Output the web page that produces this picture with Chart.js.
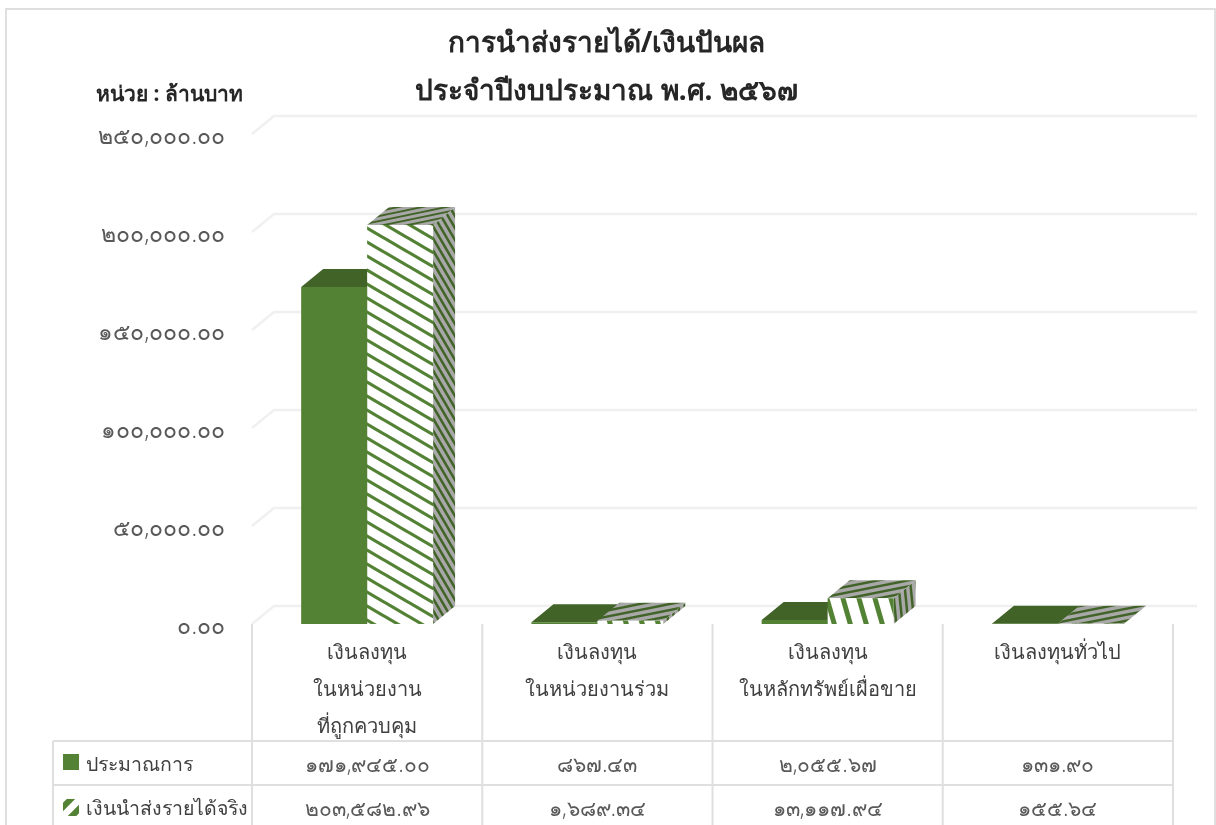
<!DOCTYPE html>
<html>
<head>
    <meta charset="utf-8">
    <title>การนำส่งรายได้</title>
    <script src="https://cdn.jsdelivr.net/npm/chart.js"></script>
    <style>
        html, body { margin: 0; background: #fff; overflow: hidden; }
    </style>
</head>
<body>
    <canvas id="revenueChart" width="1216" height="825"></canvas>

    <script>
    const categories = [
        ['เงินลงทุน', 'ในหน่วยงาน', 'ที่ถูกควบคุม'],
        ['เงินลงทุน', 'ในหน่วยงานร่วม'],
        ['เงินลงทุน', 'ในหลักทรัพย์เผื่อขาย'],
        ['เงินลงทุนทั่วไป']
    ];
    const seriesNames = ['ประมาณการ', 'เงินนำส่งรายได้จริง'];
    const plannedValues = [171945.00, 867.43, 2055.67, 131.90];
    const actualValues = [203582.96, 1689.34, 13117.94, 155.64];
    const titleLines = ['การนำส่งรายได้/เงินปันผล', 'ประจำปีงบประมาณ พ.ศ. ๒๕๖๗'];
    const unitLabel = 'หน่วย : ล้านบาท';

    const FONT = '"Noto Sans", sans-serif';
    const TEXT = '#404040';
    const DIGITS = '#595959';
    const GREEN = '#548235';
    const DARK_GREEN = '#426328';
    const GRID = '#f0f0f0';
    const TABLE_LINE = '#dfdfdf';
    const GRAY = '#a8a8a8';
    const DEPTH_X = 22;
    const DEPTH_Y = 18;

    const thaiDigits = '๐๑๒๓๔๕๖๗๘๙';
    function toThai(value) {
        const text = value.toLocaleString('en-US', { minimumFractionDigits: 2, maximumFractionDigits: 2 });
        return text.replace(/[0-9]/g, d => thaiDigits[d]);
    }

    // striped tile, stripe drops `period` px for every `run` px sideways (rising when up is set)
    function stripes(bg, fg, period, run, lineWidth, up) {
        const c = document.createElement('canvas');
        c.width = run;
        c.height = period;
        const g = c.getContext('2d');
        g.fillStyle = bg;
        g.fillRect(0, 0, run, period);
        if (up) {
            g.translate(0, period);
            g.scale(1, -1);
        }
        g.strokeStyle = fg;
        g.lineWidth = lineWidth;
        for (let k = -1; k <= 1; k++) {
            g.beginPath();
            g.moveTo(-run, k * period - period);
            g.lineTo(run * 2, k * period + period * 2);
            g.stroke();
        }
        return c;
    }

    const ctx = document.getElementById('revenueChart').getContext('2d');
    const frontTall = ctx.createPattern(stripes('#ffffff', GREEN, 14, 24, 3.2), 'repeat');
    const frontLow = ctx.createPattern(stripes('#ffffff', GREEN, 56, 16, 5), 'repeat');
    const sideTall = ctx.createPattern(stripes(GRAY, DARK_GREEN, 12, 7, 2.5), 'repeat');
    const sideLow = ctx.createPattern(stripes(GRAY, DARK_GREEN, 60, 6, 2.5), 'repeat');
    const topTall = ctx.createPattern(stripes(GRAY, DARK_GREEN, 5, 24, 1.8, true), 'repeat');
    const topLow = ctx.createPattern(stripes(GRAY, DARK_GREEN, 6, 30, 2.4, true), 'repeat');
    const sideFaces = [sideTall, sideLow, sideLow, sideLow];
    const topFaces = [topTall, topLow, topLow, topLow];

    const depthPlugin = {
        id: 'depth',
        beforeDatasetsDraw(chart) {
            const c = chart.ctx;
            const { left, right } = chart.chartArea;
            const yScale = chart.scales.y;
            c.save();

            // wall and floor grid
            c.strokeStyle = GRID;
            c.lineWidth = 2.5;
            yScale.ticks.forEach(t => {
                const y = yScale.getPixelForValue(t.value);
                c.beginPath();
                c.moveTo(left, y);
                c.lineTo(left + DEPTH_X, y - DEPTH_Y);
                c.lineTo(right + 24, y - DEPTH_Y);
                c.stroke();
            });

            // top and side faces of the bars
            chart.data.datasets.forEach((ds, i) => {
                chart.getDatasetMeta(i).data.forEach((bar, n) => {
                    const x0 = bar.x - bar.width / 2;
                    const x1 = bar.x + bar.width / 2;
                    c.fillStyle = i === 0 ? DARK_GREEN : sideFaces[n];
                    c.beginPath();
                    c.moveTo(x1, bar.y);
                    c.lineTo(x1 + DEPTH_X, bar.y - DEPTH_Y);
                    c.lineTo(x1 + DEPTH_X, bar.base - DEPTH_Y);
                    c.lineTo(x1, bar.base);
                    c.closePath();
                    c.fill();
                    c.fillStyle = i === 0 ? DARK_GREEN : topFaces[n];
                    c.beginPath();
                    c.moveTo(x0, bar.y);
                    c.lineTo(x0 + DEPTH_X, bar.y - DEPTH_Y);
                    c.lineTo(x1 + DEPTH_X, bar.y - DEPTH_Y);
                    c.lineTo(x1, bar.y);
                    c.closePath();
                    c.fill();
                });
            });
            c.restore();
        },
        afterDraw(chart) {
            const c = chart.ctx;
            const { left, right, bottom } = chart.chartArea;
            const xScale = chart.scales.x;
            const step = (right - left) / categories.length;
            const tableLeft = 53;
            const rows = [741, 785];
            c.save();

            // outer frame
            c.strokeStyle = TABLE_LINE;
            c.lineWidth = 2;
            c.beginPath();
            c.moveTo(6, 830);
            c.lineTo(6, 9);
            c.lineTo(1215, 9);
            c.lineTo(1215, 830);
            c.stroke();

            // data table lines
            c.beginPath();
            for (let i = 0; i <= categories.length; i++) {
                c.moveTo(left + i * step, bottom);
                c.lineTo(left + i * step, 825);
            }
            c.moveTo(tableLeft, rows[0]);
            c.lineTo(tableLeft, 825);
            c.moveTo(tableLeft, rows[0]);
            c.lineTo(right, rows[0]);
            c.moveTo(tableLeft, rows[1]);
            c.lineTo(right, rows[1]);
            c.stroke();

            // unit label
            c.fillStyle = '#262626';
            c.font = 'bold 21px ' + FONT;
            c.textAlign = 'left';
            c.textBaseline = 'middle';
            c.fillText(unitLabel, 96, 95);

            // table text
            c.fillStyle = TEXT;
            c.font = '19.5px ' + FONT;
            c.fillText(seriesNames[0], 86, 765);
            c.fillText(seriesNames[1], 86, 809);
            c.fillStyle = DIGITS;
            c.font = '300 21px ' + FONT;
            c.textAlign = 'center';
            [plannedValues, actualValues].forEach((values, r) => {
                values.forEach((v, i) => {
                    c.fillText(toThai(v), xScale.getPixelForTick(i), r === 0 ? 766 : 810);
                });
            });

            // legend keys
            c.fillStyle = GREEN;
            c.fillRect(63, 754, 16, 16);
            c.beginPath();
            c.rect(63, 799, 16, 17);
            c.clip();
            c.fillStyle = '#ffffff';
            c.fillRect(63, 799, 16, 17);
            c.strokeStyle = GREEN;
            c.lineWidth = 6;
            c.beginPath();
            c.moveTo(59, 811);
            c.lineTo(73, 797);
            c.moveTo(68, 820);
            c.lineTo(82, 806);
            c.stroke();
            c.restore();
        }
    };

    new Chart(ctx, {
        type: 'bar',
        data: {
            labels: categories,
            datasets: [
                { label: seriesNames[0], data: plannedValues, backgroundColor: GREEN },
                { label: seriesNames[1], data: actualValues, backgroundColor: [frontTall, frontLow, frontLow, frontLow] }
            ]
        },
        options: {
            responsive: false,
            animation: false,
            layout: { padding: { left: 40, right: 43, top: 0, bottom: 0 } },
            datasets: { bar: { categoryPercentage: 0.573, barPercentage: 1 } },
            plugins: {
                legend: { display: false },
                tooltip: { enabled: false },
                title: {
                    display: true,
                    text: titleLines,
                    color: '#262626',
                    font: { family: FONT, size: 28, weight: 'bold', lineHeight: 48 / 28 },
                    padding: { top: 20, bottom: 18 }
                }
            },
            scales: {
                x: {
                    afterFit(scale) { scale.height = 201; },
                    grid: { display: false },
                    border: { display: false },
                    ticks: {
                        color: TEXT,
                        font: { family: FONT, size: 20, lineHeight: 37 / 20 },
                        maxRotation: 0,
                        autoSkip: false,
                        padding: 3
                    }
                },
                y: {
                    min: 0,
                    max: 250000,
                    afterFit(scale) { scale.width = 212; },
                    grid: { display: false },
                    border: { display: false },
                    ticks: {
                        stepSize: 50000,
                        color: DIGITS,
                        // the blank first line and short line height push labels 3px under the gridline
                        font: { family: FONT, size: 23, weight: 300, lineHeight: 6 / 23 },
                        padding: 19,
                        callback: v => ['', toThai(v)]
                    }
                }
            }
        },
        plugins: [depthPlugin]
    });
    </script>
</body>
</html>
